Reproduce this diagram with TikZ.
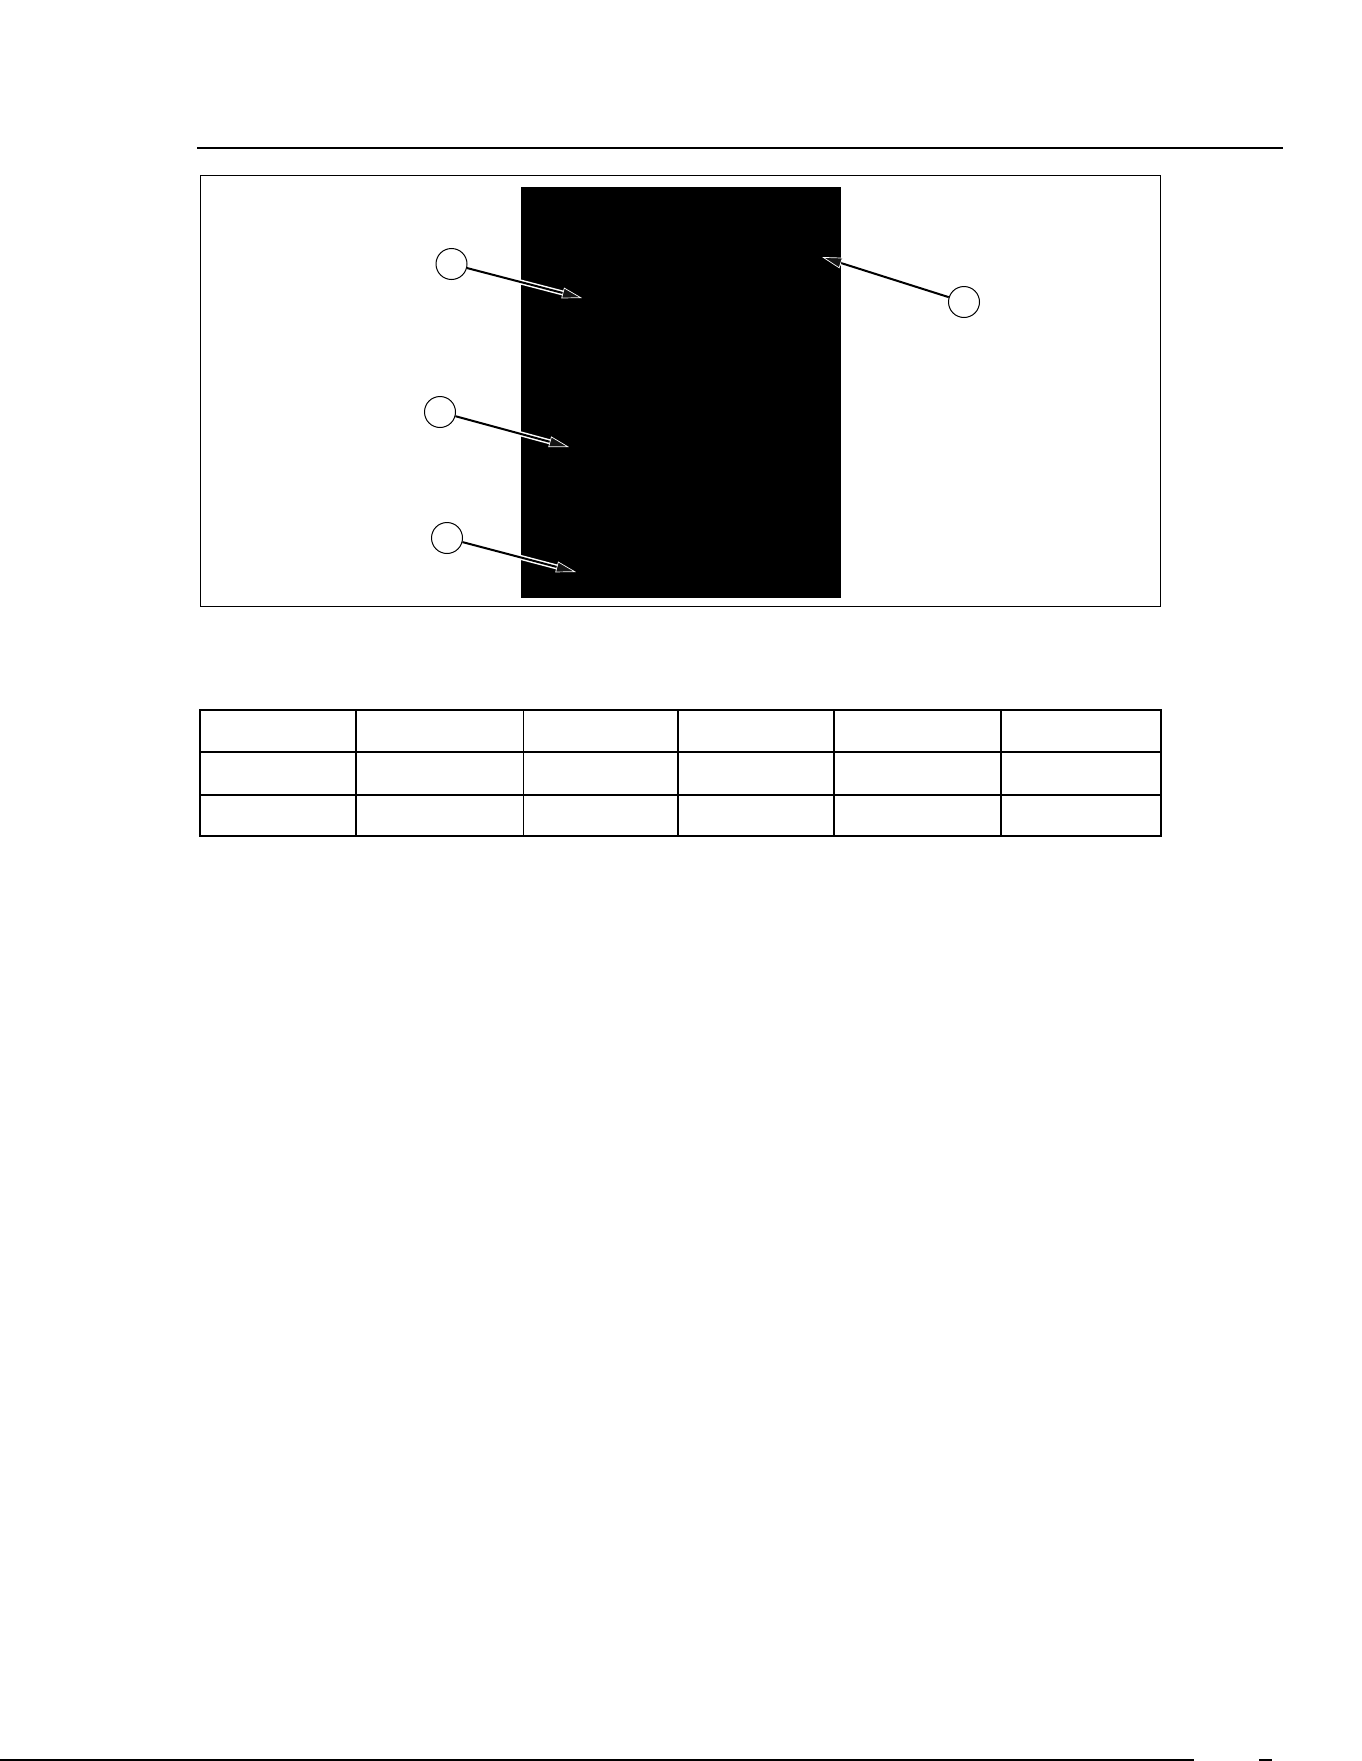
\documentclass[tikz,border=0pt]{standalone}
\usepackage{tikz}
\usetikzlibrary{arrows.meta}
\tikzset{callout/.style={circle, draw, line width=1pt, minimum size=31pt, inner sep=0pt},
  halo/.style={white, line width=5pt, shorten >=12pt, shorten <=1pt},
  pointer/.style={line width=2pt, -{Triangle[length=20pt,width=11pt,color=white,fill=black!92,line width=0.7pt]}},
  rule/.style={line width=1.5pt}}

\begin{document}
\begin{tikzpicture}[x=1pt,y=-1pt]
\useasboundingbox (0,0) rectangle (1361,1761);
\draw[line width=1.6pt] (197,148) -- (1283,148);
\draw[rule] (200.7,175.7) rectangle (1160.7,606.7);
\fill (520.5,186.5) rectangle (840.5,597.5);
\node[callout] (c1) at (451.5,264) {};
\node[callout] (c2) at (440,412) {};
\node[callout] (c3) at (447,538) {};
\node[callout] (c4) at (964,302) {};
\coordinate (t1) at (582,298);
\coordinate (t2) at (569,447);
\coordinate (t3) at (576,572);
\coordinate (t4) at (822,257);
\foreach \i in {1,...,4} {
  \draw[halo] (c\i) -- (t\i);
  \draw[pointer] (c\i) -- (t\i);
}
\foreach \y/\w in {710/1.7, 752/2.6, 795/1.7, 836/1.3}
  \draw[line width=\w pt] (199.2,\y) -- (1161.8,\y);
\foreach \x in {200,356,523.5,678,834,1001,1161}
  \draw[rule] (\x,710) -- (\x,836);
\draw[line width=1.5pt] (0,1760) -- (1194,1760);
\draw[line width=1.5pt] (1259,1760) -- (1272,1760);
\end{tikzpicture}
\end{document}
